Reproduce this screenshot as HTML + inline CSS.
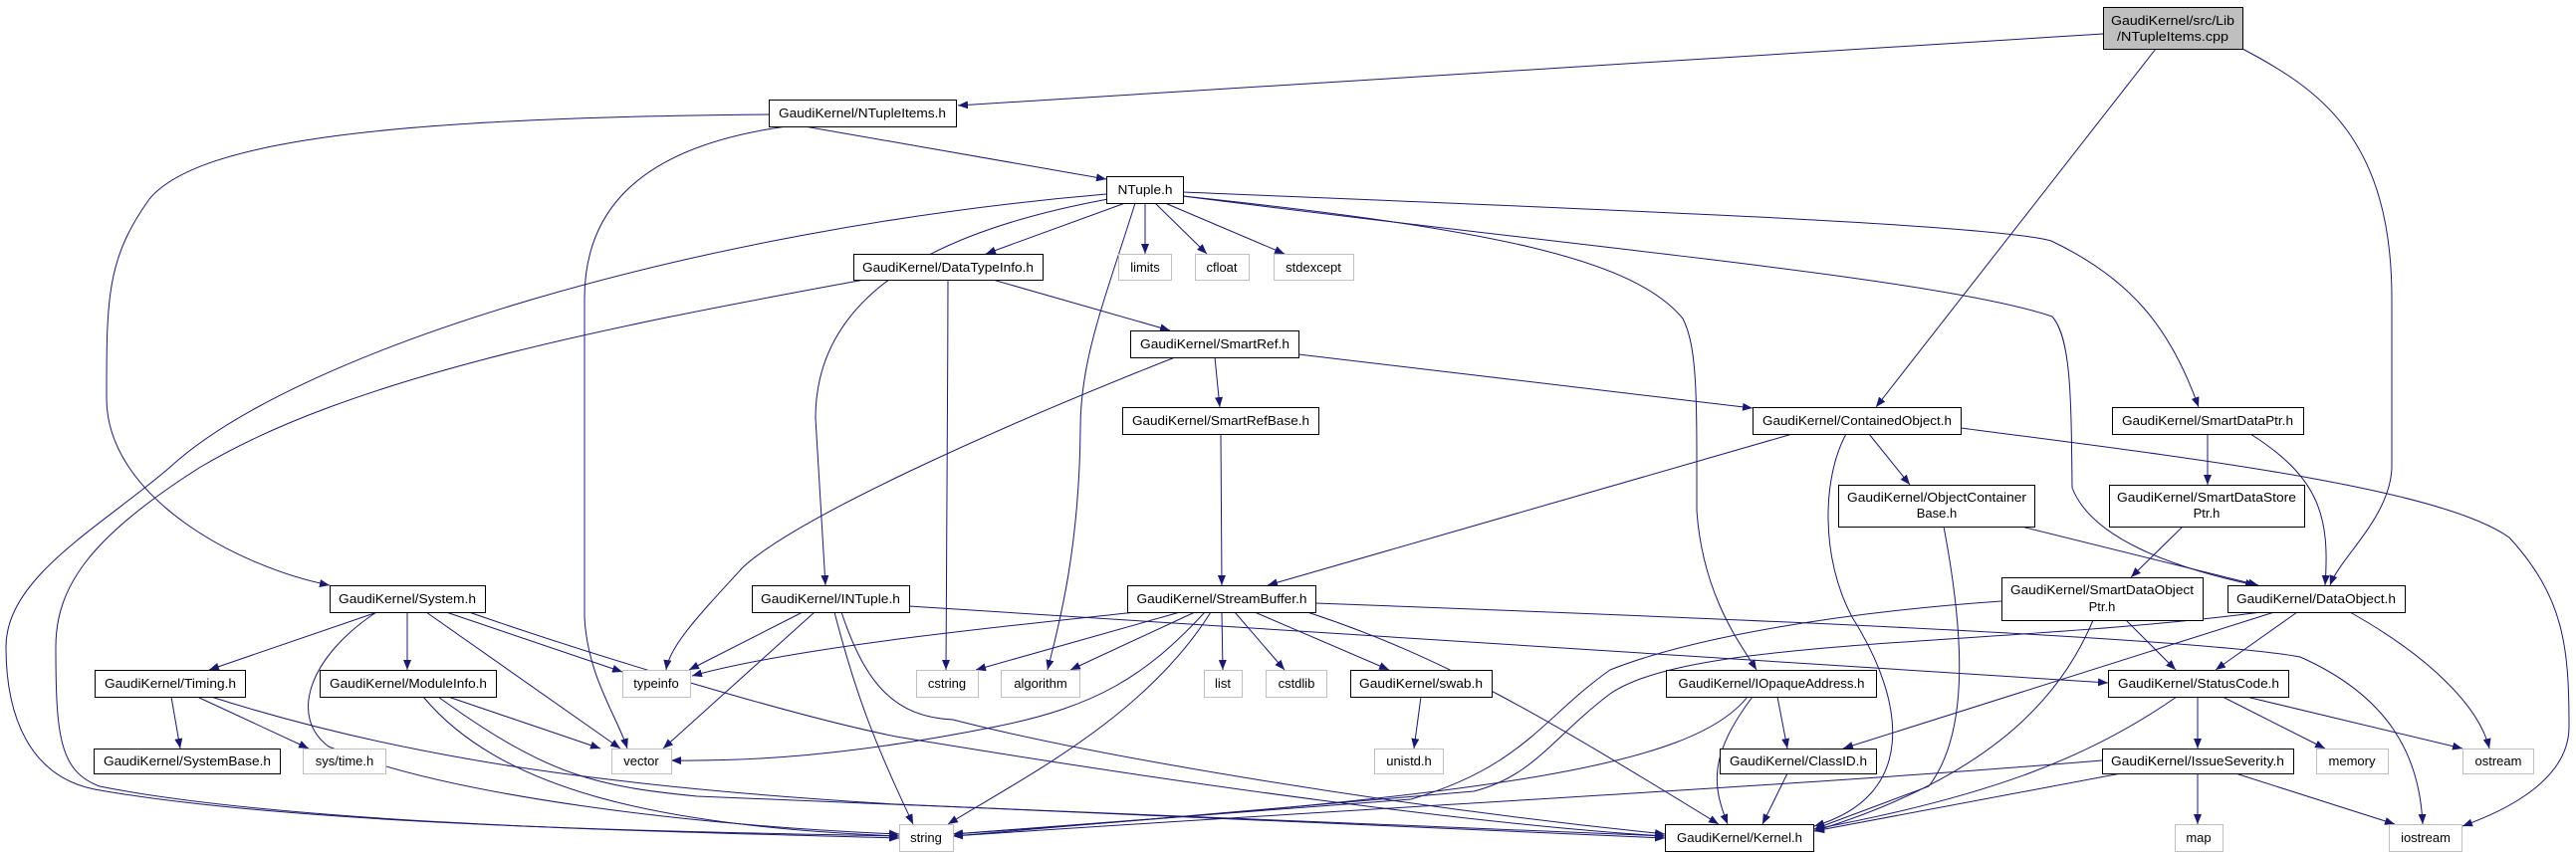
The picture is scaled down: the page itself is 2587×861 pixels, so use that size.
<!DOCTYPE html>
<html><head><meta charset="utf-8"><style>
html,body{margin:0;padding:0;background:#fff;}
svg{display:block;}
text{font-family:"Liberation Sans",Arial,sans-serif;font-size:13px;fill:#000;}
.e{fill:none;stroke:#191970;stroke-width:1;marker-end:url(#a);}
.b{fill:#fff;stroke:#000;stroke-width:1;}
.g{fill:#fff;stroke:#bfbfbf;stroke-width:1;}
</style></head><body>
<svg width="2587" height="861" viewBox="0 0 2587 861" xmlns="http://www.w3.org/2000/svg">
<defs><marker id="a" markerUnits="userSpaceOnUse" markerWidth="11" markerHeight="8" refX="10" refY="4" orient="auto"><path d="M0,0 L10,4 L0,8 z" fill="#191970"/></marker></defs>
<g>
<path class="e" d="M2112,34 L962,106"/>
<path class="e" d="M2165,49 L1884,409"/>
<path class="e" d="M2252,49 C2330,90 2402,140 2402,300 L2402,470 C2400,520 2350,560 2340,588"/>
<path class="e" d="M772,115 C400,118 200,140 150,200 C107,260 107,300 107,400 C107,500 240,570 331,588"/>
<path class="e" d="M790,127 C620,150 587,230 587,300 L587,620 C590,680 620,720 630,752"/>
<path class="e" d="M808,127 L1111,180"/>
<path class="e" d="M1111,195 C700,230 300,350 170,470 C100,530 6,580 6,650 C6,720 30,780 95,793 C300,830 700,836 903,840"/>
<path class="e" d="M868,281 C600,330 350,380 200,470 C90,540 56,590 56,650 C56,740 60,775 100,790 C300,830 700,836 903,842"/>
<path class="e" d="M1130,204 L990,255"/>
<path class="e" d="M1113,200 C950,230 819,290 819,420 L829,588"/>
<path class="e" d="M1140,204 C1110,300 1085,360 1085,430 C1084,560 1060,640 1052,673"/>
<path class="e" d="M1150,204 L1150,255"/>
<path class="e" d="M1160,204 L1212,255"/>
<path class="e" d="M1170,204 L1290,255"/>
<path class="e" d="M1188,197 C1500,230 1640,260 1690,320 C1705,350 1704,400 1704,513 C1710,600 1750,650 1764,673"/>
<path class="e" d="M1188,193 C1600,210 2000,225 2060,242 C2140,280 2180,330 2208,409"/>
<path class="e" d="M1188,197 C1600,250 1950,280 2061,318 C2080,340 2080,400 2081,490 C2100,540 2180,570 2265,588"/>
<path class="e" d="M997,281 L1175,332"/>
<path class="e" d="M952,281 C952,400 950,500 950,673"/>
<path class="e" d="M1220,359 L1225,409"/>
<path class="e" d="M1304,356 L1760,410"/>
<path class="e" d="M1180,359 C1000,430 800,520 746,570 C700,620 672,650 669,673"/>
<path class="e" d="M1226,436 L1227,588"/>
<path class="e" d="M1800,436 L1273,588"/>
<path class="e" d="M1877,436 L1918,487"/>
<path class="e" d="M1854,436 C1830,480 1828,560 1860,620 C1915,707 1925,800 1822,830"/>
<path class="e" d="M1969,430 C2200,460 2450,490 2520,540 C2575,600 2580,650 2580,730 C2580,790 2500,820 2473,830"/>
<path class="e" d="M2217,436 L2217,487"/>
<path class="e" d="M2260,436 C2330,480 2340,520 2335,588"/>
<path class="e" d="M2192,529 L2140,580"/>
<path class="e" d="M2030,529 L2268,588"/>
<path class="e" d="M1952,529 C1975,650 1975,740 1937,790 L1822,833"/>
<path class="e" d="M2135,623 L2185,673"/>
<path class="e" d="M2010,604 C1850,615 1700,640 1617,673 C1550,720 1530,770 1417,803 L957,838"/>
<path class="e" d="M2102,623 C2070,700 2000,780 1822,835"/>
<path class="e" d="M2307,615 L2225,673"/>
<path class="e" d="M2284,615 L1851,752"/>
<path class="e" d="M2360,615 C2440,660 2490,710 2500,752"/>
<path class="e" d="M2271,615 C2000,650 1700,640 1617,697 C1560,740 1540,780 1480,795 L957,840"/>
<path class="e" d="M1141,615 C1000,630 800,650 695,679"/>
<path class="e" d="M1185,615 L980,673"/>
<path class="e" d="M1200,615 L1075,673"/>
<path class="e" d="M1227,615 L1228,673"/>
<path class="e" d="M1240,615 L1290,673"/>
<path class="e" d="M1260,615 L1395,673"/>
<path class="e" d="M1210,615 C1150,680 1100,710 1000,730 C850,760 750,765 674,764"/>
<path class="e" d="M1216,615 C1150,720 1030,780 952,828"/>
<path class="e" d="M1313,615 C1450,660 1550,720 1726,828"/>
<path class="e" d="M1321,606 C1700,620 2200,640 2310,660 C2400,700 2430,760 2433,828"/>
<path class="e" d="M806,615 L692,673"/>
<path class="e" d="M818,615 L666,752"/>
<path class="e" d="M838,615 C860,700 880,750 917,828"/>
<path class="e" d="M845,615 C870,690 900,720 957,723 C1100,760 1400,810 1672,838"/>
<path class="e" d="M913,609 L2117,686"/>
<path class="e" d="M379,615 L210,673"/>
<path class="e" d="M409,615 L409,673"/>
<path class="e" d="M448,615 L625,675"/>
<path class="e" d="M428,615 L623,752"/>
<path class="e" d="M378,615 C310,660 290,720 330,750 C450,800 700,830 903,838"/>
<path class="e" d="M471,615 C600,660 800,720 900,740 C1200,790 1500,830 1672,840"/>
<path class="e" d="M172,700 L181,752"/>
<path class="e" d="M198,700 L310,752"/>
<path class="e" d="M212,700 C400,760 600,790 900,808 L1672,842"/>
<path class="e" d="M450,700 L603,752"/>
<path class="e" d="M425,700 C500,790 650,830 903,840"/>
<path class="e" d="M440,700 C550,780 600,790 700,800 L1672,840"/>
<path class="e" d="M1427,700 L1420,752"/>
<path class="e" d="M1785,700 L1795,752"/>
<path class="e" d="M1760,700 C1715,760 1720,790 1735,828"/>
<path class="e" d="M1755,700 C1700,770 1500,800 957,838"/>
<path class="e" d="M1795,777 L1770,828"/>
<path class="e" d="M2207,700 L2207,752"/>
<path class="e" d="M2232,700 L2335,752"/>
<path class="e" d="M2256,700 L2473,752"/>
<path class="e" d="M2186,700 C2100,760 2000,800 1822,833"/>
<path class="e" d="M2207,777 L2207,828"/>
<path class="e" d="M2245,777 L2405,828"/>
<path class="e" d="M2130,777 L1822,835"/>
<path class="e" d="M2111,764 C1800,790 1400,810 957,840"/>
</g>
<g>
<rect x="2112.5" y="7.5" width="140" height="42" fill="#bfbfbf" stroke="#000"/>
<text x="2182" y="25" text-anchor="middle" textLength="124" lengthAdjust="spacingAndGlyphs">GaudiKernel/src/Lib</text>
<text x="2182" y="41" text-anchor="middle" textLength="112" lengthAdjust="spacingAndGlyphs">/NTupleItems.cpp</text>

<rect class="b" x="772.5" y="100.5" width="188" height="27"/><text x="866" y="118" text-anchor="middle" textLength="168" lengthAdjust="spacingAndGlyphs">GaudiKernel/NTupleItems.h</text>
<rect class="b" x="1111.5" y="177.5" width="77" height="27"/><text x="1150" y="195" text-anchor="middle" textLength="55" lengthAdjust="spacingAndGlyphs">NTuple.h</text>
<rect class="b" x="857.5" y="255.5" width="190" height="26"/><text x="952" y="273" text-anchor="middle" textLength="172" lengthAdjust="spacingAndGlyphs">GaudiKernel/DataTypeInfo.h</text>
<rect class="g" x="1123.5" y="255.5" width="53" height="26"/><text x="1150" y="273" text-anchor="middle">limits</text>
<rect class="g" x="1200.5" y="255.5" width="54" height="26"/><text x="1227" y="273" text-anchor="middle">cfloat</text>
<rect class="g" x="1279.5" y="255.5" width="80" height="26"/><text x="1319" y="273" text-anchor="middle">stdexcept</text>
<rect class="b" x="1135.5" y="332.5" width="169" height="27"/><text x="1220" y="350" text-anchor="middle" textLength="150" lengthAdjust="spacingAndGlyphs">GaudiKernel/SmartRef.h</text>
<rect class="b" x="1127.5" y="409.5" width="197" height="27"/><text x="1226" y="427" text-anchor="middle" textLength="178" lengthAdjust="spacingAndGlyphs">GaudiKernel/SmartRefBase.h</text>
<rect class="b" x="1760.5" y="409.5" width="209" height="27"/><text x="1865" y="427" text-anchor="middle" textLength="190" lengthAdjust="spacingAndGlyphs">GaudiKernel/ContainedObject.h</text>
<rect class="b" x="2121.5" y="409.5" width="192" height="27"/><text x="2217" y="427" text-anchor="middle" textLength="172" lengthAdjust="spacingAndGlyphs">GaudiKernel/SmartDataPtr.h</text>
<rect class="b" x="1846.5" y="487.5" width="197" height="42"/><text x="1945" y="504" text-anchor="middle" textLength="180" lengthAdjust="spacingAndGlyphs">GaudiKernel/ObjectContainer</text><text x="1945" y="520" text-anchor="middle">Base.h</text>
<rect class="b" x="2118.5" y="487.5" width="196" height="42"/><text x="2216" y="504" text-anchor="middle" textLength="180" lengthAdjust="spacingAndGlyphs">GaudiKernel/SmartDataStore</text><text x="2216" y="520" text-anchor="middle">Ptr.h</text>
<rect class="b" x="2010.5" y="580.5" width="202" height="43"/><text x="2111" y="597" text-anchor="middle" textLength="184" lengthAdjust="spacingAndGlyphs">GaudiKernel/SmartDataObject</text><text x="2111" y="614" text-anchor="middle">Ptr.h</text>
<rect class="b" x="2237.5" y="588.5" width="178" height="27"/><text x="2326" y="606" text-anchor="middle" textLength="160" lengthAdjust="spacingAndGlyphs">GaudiKernel/DataObject.h</text>
<rect class="b" x="331.5" y="588.5" width="156" height="27"/><text x="409" y="606" text-anchor="middle" textLength="138" lengthAdjust="spacingAndGlyphs">GaudiKernel/System.h</text>
<rect class="b" x="755.5" y="588.5" width="158" height="27"/><text x="834" y="606" text-anchor="middle" textLength="140" lengthAdjust="spacingAndGlyphs">GaudiKernel/INTuple.h</text>
<rect class="b" x="1132.5" y="588.5" width="189" height="27"/><text x="1227" y="606" text-anchor="middle" textLength="171" lengthAdjust="spacingAndGlyphs">GaudiKernel/StreamBuffer.h</text>
<rect class="b" x="95.5" y="673.5" width="151" height="27"/><text x="171" y="691" text-anchor="middle" textLength="132" lengthAdjust="spacingAndGlyphs">GaudiKernel/Timing.h</text>
<rect class="b" x="321.5" y="673.5" width="177" height="27"/><text x="410" y="691" text-anchor="middle" textLength="158" lengthAdjust="spacingAndGlyphs">GaudiKernel/ModuleInfo.h</text>
<rect class="g" x="625.5" y="673.5" width="68" height="27"/><text x="659" y="691" text-anchor="middle">typeinfo</text>
<rect class="g" x="920.5" y="673.5" width="62" height="27"/><text x="951" y="691" text-anchor="middle">cstring</text>
<rect class="g" x="1005.5" y="673.5" width="79" height="27"/><text x="1045" y="691" text-anchor="middle">algorithm</text>
<rect class="g" x="1209.5" y="673.5" width="38" height="27"/><text x="1228" y="691" text-anchor="middle">list</text>
<rect class="g" x="1271.5" y="673.5" width="61" height="27"/><text x="1302" y="691" text-anchor="middle">cstdlib</text>
<rect class="b" x="1356.5" y="673.5" width="142" height="27"/><text x="1427" y="691" text-anchor="middle" textLength="124" lengthAdjust="spacingAndGlyphs">GaudiKernel/swab.h</text>
<rect class="b" x="1673.5" y="673.5" width="211" height="27"/><text x="1779" y="691" text-anchor="middle" textLength="187" lengthAdjust="spacingAndGlyphs">GaudiKernel/IOpaqueAddress.h</text>
<rect class="b" x="2117.5" y="673.5" width="181" height="27"/><text x="2208" y="691" text-anchor="middle" textLength="162" lengthAdjust="spacingAndGlyphs">GaudiKernel/StatusCode.h</text>
<rect class="b" x="94.5" y="752.5" width="187" height="25"/><text x="188" y="769" text-anchor="middle" textLength="168" lengthAdjust="spacingAndGlyphs">GaudiKernel/SystemBase.h</text>
<rect class="g" x="304.5" y="752.5" width="83" height="25"/><text x="346" y="769" text-anchor="middle">sys/time.h</text>
<rect class="g" x="614.5" y="752.5" width="60" height="25"/><text x="644" y="769" text-anchor="middle">vector</text>
<rect class="g" x="1380.5" y="752.5" width="69" height="25"/><text x="1415" y="769" text-anchor="middle">unistd.h</text>
<rect class="b" x="1727.5" y="752.5" width="157" height="25"/><text x="1806" y="769" text-anchor="middle" textLength="138" lengthAdjust="spacingAndGlyphs">GaudiKernel/ClassID.h</text>
<rect class="b" x="2111.5" y="752.5" width="192" height="25"/><text x="2207" y="769" text-anchor="middle" textLength="174" lengthAdjust="spacingAndGlyphs">GaudiKernel/IssueSeverity.h</text>
<rect class="g" x="2326.5" y="752.5" width="72" height="25"/><text x="2362" y="769" text-anchor="middle">memory</text>
<rect class="g" x="2473.5" y="752.5" width="71" height="25"/><text x="2509" y="769" text-anchor="middle">ostream</text>
<rect class="g" x="903.5" y="828.5" width="54" height="27"/><text x="930" y="846" text-anchor="middle">string</text>
<rect class="b" x="1672.5" y="828.5" width="149" height="27"/><text x="1747" y="846" text-anchor="middle" textLength="126" lengthAdjust="spacingAndGlyphs">GaudiKernel/Kernel.h</text>
<rect class="g" x="2184.5" y="828.5" width="48" height="27"/><text x="2208" y="846" text-anchor="middle">map</text>
<rect class="g" x="2399.5" y="828.5" width="73" height="27"/><text x="2436" y="846" text-anchor="middle">iostream</text>
</g>
</svg>
</body></html>
